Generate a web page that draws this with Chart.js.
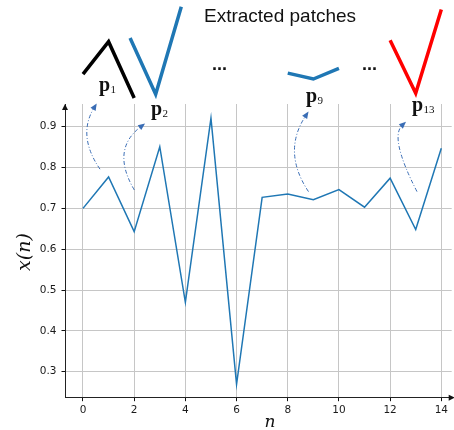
<!DOCTYPE html>
<html>
<head>
<meta charset="utf-8">
<script src="https://cdn.jsdelivr.net/npm/chart.js@4"></script>
<style>
  body { margin: 0; background: #fff; }
  #wrap { width: 454px; height: 430px; position: relative; }
</style>
</head>
<body>
<div id="wrap"><canvas id="chart"></canvas></div>
<script>
// signal samples x(n)
const nValues = [0, 1, 2, 3, 4, 5, 6, 7, 8, 9, 10, 11, 12, 13, 14];
const xValues = [0.700, 0.777, 0.643, 0.851, 0.470, 0.921, 0.269, 0.727, 0.735, 0.721, 0.746, 0.703, 0.774, 0.648, 0.847];

const xTicks = [0, 2, 4, 6, 8, 10, 12, 14];
const yTicks = [0.3, 0.4, 0.5, 0.6, 0.7, 0.8, 0.9];

// extracted patches: first sample index and subscript
const patchStarts = [0, 1, 8, 12];
const patchNames = ["1", "2", "9", "13"];

// drawing of the patches above the axes (layout only)
const patchStyle = [
  { shift: 0, midY: 41.7, color: "#000000" },
  { shift: 0.84, midY: 94.3, color: "#1f77b4" },
  { shift: 0, midY: 79, color: "#1f77b4" },
  { shift: 0, midY: 93.3, color: "#ff0000" },
];
const labelPos = [[99, 91], [151, 115], [306, 101.5], [412, 111]];
// curved arrows in data coordinates: start, control, end
const arrowPaths = [
  [[0.665, 0.796], [-0.235, 0.878], [0.536, 0.957]],
  [[2.006, 0.745], [1.072, 0.844], [2.425, 0.908]],
  [[8.811, 0.741], [7.771, 0.839], [8.811, 0.937]],
  [[13.05, 0.741], [11.96, 0.874], [12.62, 0.912]],
];

const decorations = {
  id: "decorations",
  afterDraw(chart) {
    const ctx = chart.ctx;
    const xs = chart.scales.x;
    const ys = chart.scales.y;
    const area = chart.chartArea;
    ctx.save();

    // arrow heads on the spines
    ctx.fillStyle = "#111";
    ctx.beginPath();
    ctx.moveTo(area.left, area.top);
    ctx.lineTo(area.left - 3, area.top + 6);
    ctx.lineTo(area.left + 3, area.top + 6);
    ctx.closePath();
    ctx.fill();
    ctx.beginPath();
    ctx.moveTo(area.right + 3, area.bottom);
    ctx.lineTo(area.right - 3, area.bottom - 3);
    ctx.lineTo(area.right - 3, area.bottom + 3);
    ctx.closePath();
    ctx.fill();

    // patches
    patchStarts.forEach(function (s, i) {
      const st = patchStyle[i];
      const mid = ys.getPixelForValue(xValues[s + 1]);
      ctx.beginPath();
      for (let k = 0; k < 3; k++) {
        const px = xs.getPixelForValue(nValues[s + k] + st.shift);
        const py = st.midY + (ys.getPixelForValue(xValues[s + k]) - mid) * 1.03;
        if (k === 0) ctx.moveTo(px, py);
        else ctx.lineTo(px, py);
      }
      ctx.strokeStyle = st.color;
      ctx.lineWidth = 3.5;
      ctx.lineJoin = "miter";
      ctx.stroke();
    });

    // patch labels p_i
    ctx.fillStyle = "#111";
    ctx.textBaseline = "alphabetic";
    ctx.textAlign = "left";
    patchNames.forEach(function (name, i) {
      const [lx, ly] = labelPos[i];
      ctx.font = "bold 20px 'Liberation Serif'";
      ctx.fillText("p", lx, ly);
      const w = ctx.measureText("p").width;
      ctx.font = "11px 'Liberation Serif'";
      ctx.fillText(name, lx + w + 0.5, ly + 2);
    });

    // dots between patches
    ctx.font = "bold 18px 'Liberation Sans'";
    ctx.fillText("...", 212, 70);
    ctx.fillText("...", 362, 70);

    // title
    ctx.font = "19px 'Liberation Sans'";
    ctx.textAlign = "center";
    ctx.fillText("Extracted patches", 280, 21.5);

    // curved dash-dot arrows
    ctx.strokeStyle = "#3a6db5";
    ctx.fillStyle = "#3a6db5";
    ctx.lineWidth = 1;
    arrowPaths.forEach(function (p) {
      const a = [xs.getPixelForValue(p[0][0]), ys.getPixelForValue(p[0][1])];
      const c = [xs.getPixelForValue(p[1][0]), ys.getPixelForValue(p[1][1])];
      const e = [xs.getPixelForValue(p[2][0]), ys.getPixelForValue(p[2][1])];
      const ang = Math.atan2(e[1] - c[1], e[0] - c[0]);
      const back = [e[0] - 5 * Math.cos(ang), e[1] - 5 * Math.sin(ang)];
      ctx.setLineDash([4, 2, 1, 2]);
      ctx.beginPath();
      ctx.moveTo(a[0], a[1]);
      ctx.quadraticCurveTo(c[0], c[1], back[0], back[1]);
      ctx.stroke();
      ctx.setLineDash([]);
      ctx.beginPath();
      ctx.moveTo(e[0], e[1]);
      ctx.lineTo(e[0] - 7 * Math.cos(ang) + 3 * Math.sin(ang), e[1] - 7 * Math.sin(ang) - 3 * Math.cos(ang));
      ctx.lineTo(e[0] - 7 * Math.cos(ang) - 3 * Math.sin(ang), e[1] - 7 * Math.sin(ang) + 3 * Math.cos(ang));
      ctx.closePath();
      ctx.fill();
    });

    // axis titles
    ctx.fillStyle = "#111";
    ctx.textAlign = "center";
    ctx.textBaseline = "alphabetic";
    ctx.font = "italic 17px 'DejaVu Serif'";
    ctx.fillText("n", 270, 427);
    ctx.font = "italic 19px 'DejaVu Serif'";
    ctx.translate(30, 252);
    ctx.rotate(-Math.PI / 2);
    ctx.fillText("x(n)", 0, 0);

    ctx.restore();
  },
};

const ctx = document.getElementById("chart").getContext("2d");
new Chart(ctx, {
  type: "line",
  data: {
    datasets: [
      {
        data: nValues.map((n, i) => ({ x: n, y: xValues[i] })),
        borderColor: "#1f77b4",
        borderWidth: 1.5,
        pointRadius: 0,
        tension: 0,
        fill: false,
      },
    ],
  },
  options: {
    responsive: true,
    maintainAspectRatio: false,
    animation: false,
    layout: { padding: { top: 104, right: 2.3, left: 0, bottom: 0 } },
    plugins: { legend: { display: false }, tooltip: { enabled: false } },
    scales: {
      x: {
        type: "linear",
        min: -0.703,
        max: 14.406,
        afterBuildTicks: (s) => { s.ticks = xTicks.map((v) => ({ value: v })); },
        afterFit: (s) => { s.height = 32.3; },
        grid: { color: "#c6c6c6", lineWidth: 1, tickColor: "#111", tickLength: 3.5 },
        border: { color: "#222", width: 1 },
        ticks: {
          font: { family: "DejaVu Sans", size: 10.5 },
          color: "#1a1a1a",
          padding: 3,
          maxRotation: 0,
          autoSkip: false,
        },
      },
      y: {
        min: 0.2363,
        max: 0.9556,
        afterBuildTicks: (s) => { s.ticks = yTicks.map((v) => ({ value: v })); },
        afterFit: (s) => { s.width = 65; },
        grid: { color: "#c6c6c6", lineWidth: 1, tickColor: "#111", tickLength: 3.5 },
        border: { color: "#222", width: 1 },
        ticks: {
          font: { family: "DejaVu Sans", size: 10.5 },
          color: "#1a1a1a",
          padding: 5,
          autoSkip: false,
          callback: (v) => v.toFixed(1),
        },
      },
    },
  },
  plugins: [decorations],
});
</script>
</body>
</html>
